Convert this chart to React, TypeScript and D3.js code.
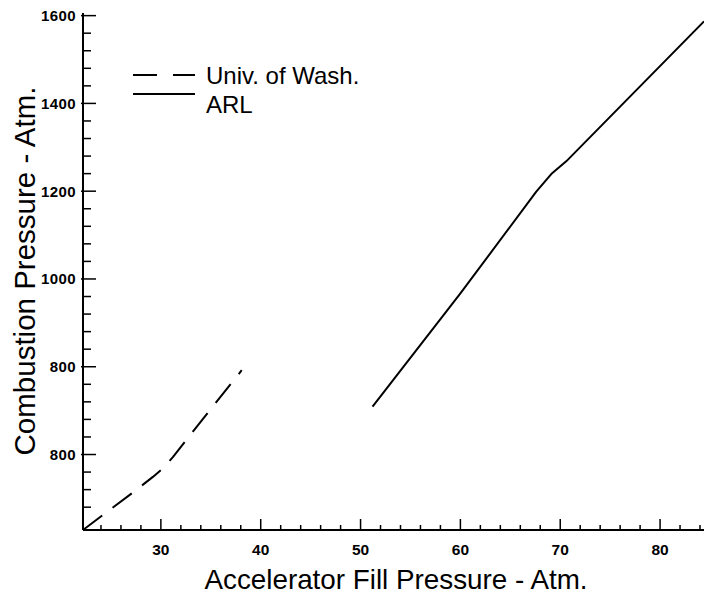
import React from "react";
import * as d3 from "d3";

const uwX = [22.2, 27.4, 29.2, 30.2, 31.2, 34, 38.1];
const uwY = [428, 517, 549, 568, 594, 675, 792];
const arlX = [51.2, 60, 67.6, 69.1, 70.6, 84.4];
const arlY = [709, 967, 1199, 1239, 1268, 1587];

const xMajor = [30, 40, 50, 60, 70, 80];
const xLabels = ["30", "40", "50", "60", "70", "80"];
const yMajor = [600, 800, 1000, 1200, 1400, 1600];
const yLabels = ["800", "800", "1000", "1200", "1400", "1600"];
const seriesNames = ["Univ. of Wash.", "ARL"];

const W = 704;
const H = 595;
const FONT = "'Liberation Sans', Arial, Helvetica, sans-serif";

export default function App() {
  const x = d3.scaleLinear().domain([22.2, 84.4]).range([83, 704]);
  const y = d3.scaleLinear().domain([428, 1606]).range([530, 13]);
  const line = d3
    .line<[number, number]>()
    .x((d) => x(d[0]))
    .y((d) => y(d[1]))
    .curve(d3.curveLinear);

  const uw: [number, number][] = uwX.map((v, i) => [v, uwY[i]]);
  const arl: [number, number][] = arlX.map((v, i) => [v, arlY[i]]);

  const xMinor = d3.range(24, 85, 2).filter((v) => !xMajor.includes(v));
  const yMinor = d3.range(480, 1601, 40).filter((v) => !yMajor.includes(v));

  const [x0, x1] = x.range();
  const [yb, yt] = y.range();

  return (
    <svg
      width={W}
      height={H}
      style={{ position: "absolute", left: 0, top: 0, background: "#fff" }}
    >
      <rect x={0} y={0} width={W} height={H} fill="#fff" />
      {/* axes */}
      <line x1={x0} y1={yb} x2={x1} y2={yb} stroke="#000" strokeWidth={2} />
      <line x1={x0} y1={yb} x2={x0} y2={yt} stroke="#000" strokeWidth={2} />

      {xMajor.map((v, i) => (
        <g key={"xm" + v}>
          <line x1={x(v)} x2={x(v)} y1={yb} y2={yb - 11} stroke="#000" strokeWidth={1.5} />
          <text
            x={x(v)}
            y={555}
            textAnchor="middle"
            fontFamily={FONT}
            fontWeight="bold"
            fontSize={15.5}
          >
            {xLabels[i]}
          </text>
        </g>
      ))}
      {xMinor.map((v) => (
        <line key={"xn" + v} x1={x(v)} x2={x(v)} y1={yb} y2={yb - 5} stroke="#000" strokeWidth={1.5} />
      ))}

      {yMajor.map((v, i) => (
        <g key={"ym" + v}>
          <line x1={x0 - 2} x2={x0 + 13} y1={y(v)} y2={y(v)} stroke="#000" strokeWidth={1.5} />
          <text
            x={76}
            y={y(v) + 5.5}
            textAnchor="end"
            fontFamily={FONT}
            fontWeight="bold"
            fontSize={15}
            letterSpacing={0.4}
          >
            {yLabels[i]}
          </text>
        </g>
      ))}
      {yMinor.map((v) => (
        <line key={"yn" + v} x1={x0} x2={x0 + 8} y1={y(v)} y2={y(v)} stroke="#000" strokeWidth={1.5} />
      ))}

      {/* series */}
      <path
        d={line(uw) || ""}
        fill="none"
        stroke="#000"
        strokeWidth={2}
        strokeLinejoin="round"
        strokeDasharray="24,13"
      />
      <path d={line(arl) || ""} fill="none" stroke="#000" strokeWidth={2} strokeLinejoin="round" />

      {/* legend */}
      <line x1={133} x2={195} y1={75} y2={75} stroke="#000" strokeWidth={1.8} strokeDasharray="24,16" />
      <text x={206} y={84} fontFamily={FONT} fontSize={24}>
        {seriesNames[0]}
      </text>
      <line x1={133} x2={195} y1={94} y2={94} stroke="#000" strokeWidth={1.8} />
      <text x={206} y={113} fontFamily={FONT} fontSize={24}>
        {seriesNames[1]}
      </text>

      {/* axis titles */}
      <text
        x={396}
        y={589}
        textAnchor="middle"
        fontFamily={FONT}
        fontSize={27.8}
      >
        Accelerator Fill Pressure - Atm.
      </text>
      <text
        transform={`translate(35,${271}) rotate(-90)`}
        x={0}
        y={0}
        textAnchor="middle"
        fontFamily={FONT}
        fontSize={29.5}
      >
        Combustion Pressure - Atm.
      </text>
    </svg>
  );
}
